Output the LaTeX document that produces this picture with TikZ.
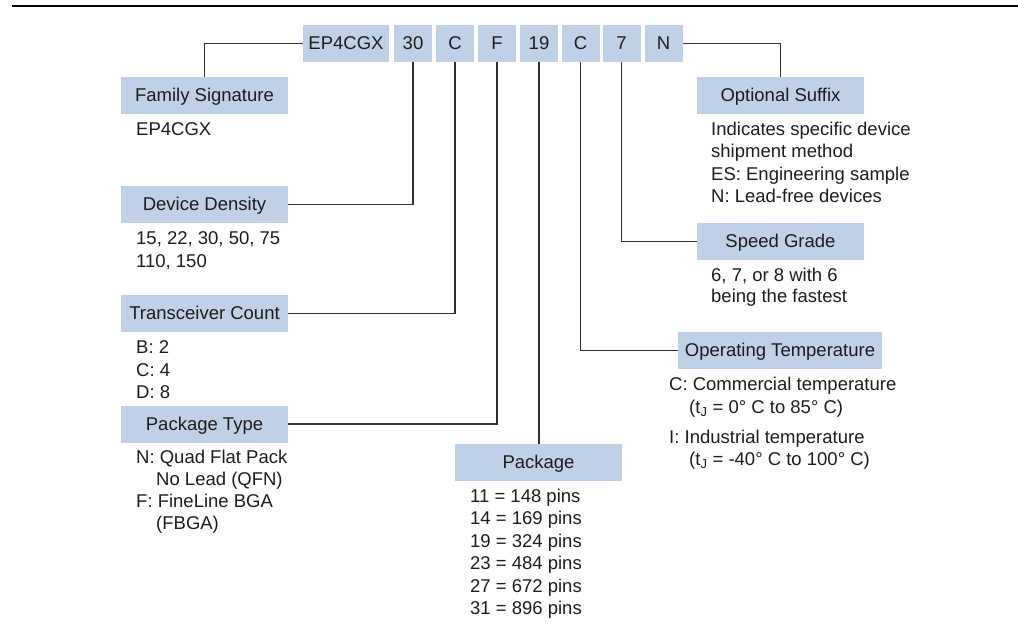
\documentclass[tikz,border=0pt]{standalone}
\usepackage{fontspec}
\setmainfont{Liberation Sans}
\definecolor{boxblue}{RGB}{192,208,230}
\definecolor{linegray}{RGB}{50,50,50}
\definecolor{txt}{RGB}{30,28,29}
\begin{document}
\begin{tikzpicture}[x=1pt,y=-1pt,
  every node/.style={font=\fontsize{18.5}{22}\selectfont, text=txt},
  codebox/.style={fill=boxblue, inner sep=0pt, minimum height=37, text height=13, text depth=0.1},
  labelbox/.style={codebox, minimum width=167},
  desc/.style={anchor=base west, inner sep=0pt},
  conn/.style={draw=linegray, line width=1.3pt}]
\useasboundingbox (0,0) rectangle (1018,633);
\draw[line width=2.8pt, black] (12,6) coordinate (r1) -- (1018,6) coordinate (r2);

% code boxes
\node[codebox, minimum width=86] (ep) at (346,43.5) {EP4CGX};
\node[codebox, minimum width=38] (c30) at (413,43.5) {30};
\node[codebox, minimum width=38] (cC) at (455,43.5) {C};
\node[codebox, minimum width=38] (cF) at (497,43.5) {F};
\node[codebox, minimum width=38] (c19) at (539,43.5) {19};
\node[codebox, minimum width=38] (cC2) at (580.5,43.5) {C};
\node[codebox, minimum width=38] (c7) at (621.5,43.5) {7};
\node[codebox, minimum width=38] (cN) at (663.5,43.5) {N};

% label boxes
\node[labelbox] (fam) at (204.5,95.5) {Family Signature};
\node[labelbox] (dd) at (204.5,204.5) {Device Density};
\node[labelbox] (tc) at (204.5,313.5) {Transceiver Count};
\node[labelbox] (pt) at (204.5,424) {Package Type};
\node[labelbox] (pkg) at (538.5,462.5) {Package};
\node[labelbox] (os) at (780.5,95.5) {Optional Suffix};
\node[labelbox] (sg) at (780.5,241.5) {Speed Grade};
\node[codebox, minimum width=204] (ot) at (780,350.5) {Operating Temperature};

% connectors
\draw[conn] (ep.west) -| (fam.north);
\draw[conn] (c30.south) |- (dd.east);
\draw[conn] (cC.south) |- (tc.east);
\draw[conn] (cF.south) |- (pt.east);
\draw[conn] (c19.south) -- (c19.south |- pkg.north);
\draw[conn] (cC2.south) |- (ot.west);
\draw[conn] (c7.south) |- (sg.west);
\draw[conn] (cN.east) -| (os.north);

% descriptions
\node[desc] (famd) at (136,135.5) {EP4CGX};
\node[desc] (dd1) at (136,244.5) {15, 22, 30, 50, 75};
\node[desc] (dd2) at (136,267.5) {110, 150};
\node[desc] (tc1) at (136,353.5) {B: 2};
\node[desc] (tc2) at (136,376) {C: 4};
\node[desc] (tc3) at (136,398.5) {D: 8};
\node[desc] (pt1) at (136,463.5) {N: Quad Flat Pack};
\node[desc] (pt2) at (156,485.5) {No Lead (QFN)};
\node[desc] (pt3) at (136,507) {F: FineLine BGA};
\node[desc] (pt4) at (156,529) {(FBGA)};
\node[desc] (pk1) at (470,502.5) {11 = 148 pins};
\node[desc] (pk2) at (470,524.5) {14 = 169 pins};
\node[desc] (pk3) at (470,547) {19 = 324 pins};
\node[desc] (pk4) at (470,569.5) {23 = 484 pins};
\node[desc] (pk5) at (470,592) {27 = 672 pins};
\node[desc] (pk6) at (470,614.5) {31 = 896 pins};
\node[desc] (os1) at (711,135.5) {Indicates specific device};
\node[desc] (os2) at (711,157.5) {shipment method};
\node[desc] (os3) at (711,180.5) {ES: Engineering sample};
\node[desc] (os4) at (711,202.5) {N: Lead-free devices};
\node[desc] (sg1) at (711,281.5) {6, 7, or 8 with 6};
\node[desc] (sg2) at (711,302.5) {being the fastest};
\node[desc] (ot1) at (669,390.5) {C: Commercial temperature};
\node[desc] (ot2) at (689,413.5) {(t\textsubscript{J} = 0° C to 85° C)};
\node[desc] (ot3) at (669,443.5) {I: Industrial temperature};
\node[desc] (ot4) at (689,465.5) {(t\textsubscript{J} = -40° C to 100° C)};
\end{tikzpicture}
\end{document}
